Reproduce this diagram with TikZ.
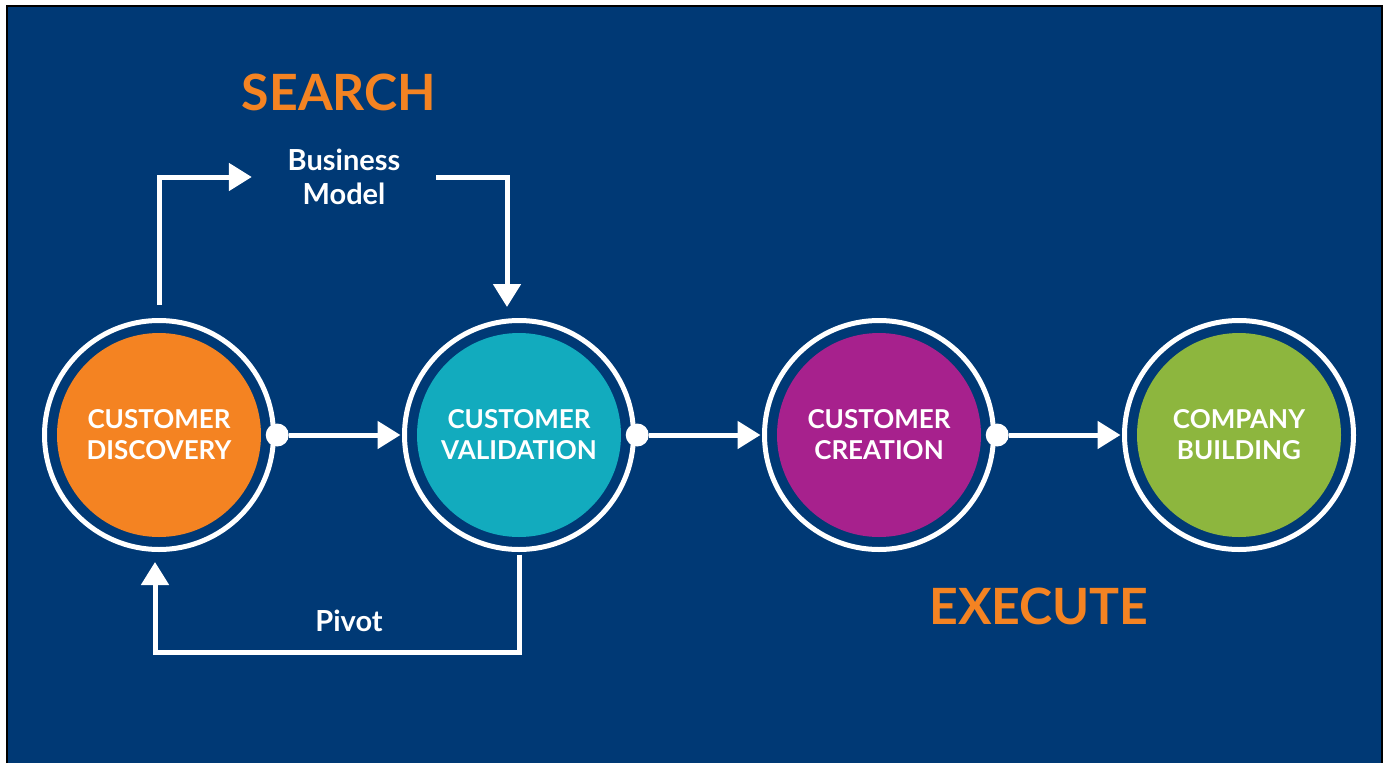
\documentclass[tikz,border=0pt]{standalone}
\usepackage{fontspec}
\setmainfont{Lato}
\usetikzlibrary{arrows.meta,positioning}

\definecolor{navybg}{RGB}{0,57,117}
\definecolor{stageorange}{RGB}{244,131,34}
\definecolor{stageteal}{RGB}{18,171,190}
\definecolor{stagepurple}{RGB}{167,33,141}
\definecolor{stagegreen}{RGB}{141,182,62}

\tikzset{
  ring/.style={circle, draw=white, line width=5pt, fill=navybg, minimum size=229pt, inner sep=0pt, outer sep=0pt},
  core/.style={circle, minimum size=204pt, inner sep=0pt, text=white, align=center,
    font=\fontsize{26}{31}\selectfont\bfseries},
  dot/.style={circle, fill=white, minimum size=23pt, inner sep=0pt},
  flow/.style={white, line width=5pt, -{Triangle[length=23pt,width=27pt]}},
  lbl/.style={text=white, align=center, font=\fontsize{29}{34}\selectfont\bfseries},
  phase/.style={text=stageorange, font=\fontsize{50}{54}\selectfont\bfseries}
}

\begin{document}
\begin{tikzpicture}[x=1pt, y=-1pt]
    \useasboundingbox (0,0) rectangle (1389,763);
    \fill[white] (0,0) rectangle (1389,763);
    \fill[navybg] (7,6) rectangle (1382,763);
    \draw[black, line width=2pt] (7,763) |- (1382,6) -- (1382,763);

    % stages
    \node[ring] (disc) at (159,435) {};
    \node[ring] (vali) at (519,435) {};
    \node[ring] (crea) at (879,435) {};
    \node[ring] (buil) at (1239,435) {};
    \node[core, fill=stageorange] at (disc) {CUSTOMER\\DISCOVERY};
    \node[core, fill=stageteal] at (vali) {CUSTOMER\\VALIDATION};
    \node[core, fill=stagepurple] at (crea) {CUSTOMER\\CREATION};
    \node[core, fill=stagegreen] at (buil) {COMPANY\\BUILDING};

    \node[dot, right=-8pt of disc.east] (d1) {};
    \node[dot, right=-8pt of vali.east] (d2) {};
    \node[dot, right=-8pt of crea.east] (d3) {};

    \draw[flow, shorten >=4pt] (d1) -- (vali.west);
    \draw[flow, shorten >=4pt] (d2) -- (crea.west);
    \draw[flow, shorten >=4pt] (d3) -- (buil.west);

    % search loop
    \node[phase] (search) at (339,92) {SEARCH};
    \node[lbl, minimum width=184pt, inner sep=0pt] (bm) at (344,177) {Business\\Model};
    \node[lbl] (pivot) at (349,621) {Pivot};
    \coordinate[above=16pt of disc.north] (dtop);
    \coordinate (vin) at (507,307);
    \coordinate[below=5pt of vali.south] (vout);
    \coordinate (din) at (155,562);

    \draw[flow] (dtop) |- (bm.west);
    \draw[flow] (bm.east) -| (vin);
    \draw[flow] (vout) -- ++(0,98) -| (din);

    \node[phase] (execute) at (1039,606) {EXECUTE};
\end{tikzpicture}
\end{document}
